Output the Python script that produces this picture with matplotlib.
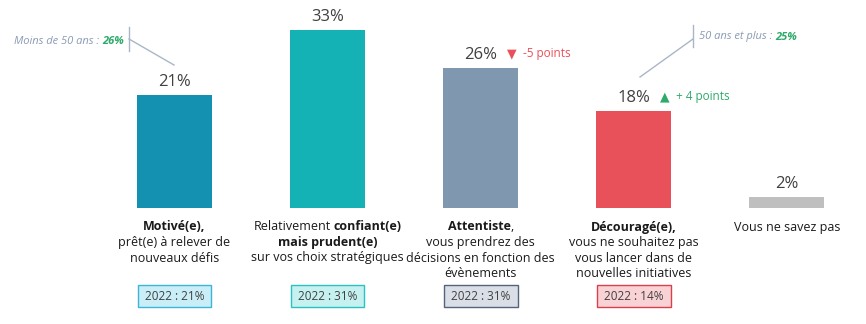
import matplotlib
matplotlib.use("Agg")
import matplotlib.pyplot as plt

plt.rcParams['font.family'] = ['Open Sans', 'DejaVu Sans']

# Données
values = [21, 33, 26, 18, 2]
prev_2022 = [21, 31, 31, 14, None]
bar_colors = ["#1490B0", "#14B1B5", "#8097B0", "#E8505A", "#BFBFBF"]
box_faces = ["#C9EEF8", "#C6F1F1", "#D9DEE7", "#F9D2D5", None]
box_edges = ["#3DB5D6", "#2CC0C0", "#56647A", "#D9404C", None]
labels = [
    [[("Motivé(e),", "bold")],
     [("prêt(e) à relever de", "normal")],
     [("nouveaux défis", "normal")]],
    [[("Relativement", "normal"), ("confiant(e)", "bold")],
     [("mais prudent(e)", "bold")],
     [("sur vos choix stratégiques", "normal")]],
    [[("Attentiste", "bold"), (",", "normal")],
     [("vous prendrez des", "normal")],
     [("décisions en fonction des", "normal")],
     [("évènements", "normal")]],
    [[("Découragé(e),", "bold")],
     [("vous ne souhaitez pas", "normal")],
     [("vous lancer dans de", "normal")],
     [("nouvelles initiatives", "normal")]],
    [[("Vous ne savez pas", "normal")]],
]
deltas = {2: ("▼", "-5 points", "#E8505A"), 3: ("▲", "+ 4 points", "#2EAA6A")}
callouts = {0: ("Moins de 50 ans : ", "26%"), 3: ("50 ans et plus : ", "25%")}

W, H = 866, 324
fig = plt.figure(figsize=(W / 100, H / 100), dpi=100)
ax = fig.add_axes([0, 0, 1, 1])

# échelle : centre barre 1 à 174.5 px, pas de 153 px ; base à 208 px du haut
step = 153.1
ppu = 5.4
ax.set_xlim(-174.5 / step, (W - 174.5) / step)
ax.set_ylim(-(H - 208) / ppu, 208 / ppu)
ax.axis("off")

x = list(range(len(values)))
ax.bar(x, values, width=0.49, color=bar_colors)

renderer = fig.canvas.get_renderer()
LBL_SIZE = 9


def text_width(s, **kw):
    t = ax.text(0, 0, s, **kw)
    w = t.get_window_extent(renderer).width
    t.remove()
    return w


space_w = text_width("a a", fontsize=LBL_SIZE) - text_width("aa", fontsize=LBL_SIZE)


def rich_line(xi, dy, segments, size=LBL_SIZE, color="#1a1a1a"):
    anns = []
    for txt, weight in segments:
        a = ax.annotate(txt, xy=(xi, 0), xytext=(0, dy), textcoords="offset pixels",
                        ha="left", va="center", fontsize=size, fontweight=weight,
                        color=color)
        anns.append(a)
    widths = [a.get_window_extent(renderer).width for a in anns]
    # espace entre segments sauf devant la ponctuation
    gaps = [0 if txt[0] in ",." else space_w for txt, _ in segments[1:]]
    total = sum(widths) + sum(gaps)
    cur = -total / 2
    for k, (a, w) in enumerate(zip(anns, widths)):
        a.xyann = (cur, dy)
        cur += w + (gaps[k] if k < len(gaps) else 0)


# Libellés des catégories
for i, lines in enumerate(labels):
    for j, segs in enumerate(lines):
        rich_line(i, -19 - j * 15.5, segs)

# Valeurs
for i, v in enumerate(values):
    ax.annotate(f"{v}%", xy=(i, v), xytext=(0, 5), textcoords="offset pixels",
                ha="center", va="bottom", fontsize=12, color="#404040")

# Rappel 2022
for i, p in enumerate(prev_2022):
    if p is None:
        continue
    ax.annotate(f" 2022 : {p}% ", xy=(i, 0), xytext=(0, -88), textcoords="offset pixels",
                ha="center", va="center", fontsize=8.5, color="#404040",
                bbox=dict(boxstyle="square,pad=0.35", fc=box_faces[i], ec=box_edges[i], lw=1))

# Évolutions
for i, (sym, txt, col) in deltas.items():
    ax.annotate(sym, xy=(i, values[i]), xytext=(31, 14), textcoords="offset pixels",
                ha="center", va="center", fontsize=9, color=col,
                family=["DejaVu Sans"])
    ax.annotate(txt, xy=(i, values[i]), xytext=(42, 14), textcoords="offset pixels",
                ha="left", va="center", fontsize=8.5, color=col)


def px2x(px):
    return (px - 174.5) / step


def px2y(py):
    return (208 - py) / ppu


# Sous-populations
c_grey = "#8A9BB4"
c_line = "#A9B6C8"
lbl, val = callouts[0]
v_t = ax.text(px2x(124), px2y(41), val, ha="right", va="center", fontsize=8,
              style="italic", fontweight="bold", color="#2EAA6A")
wv = v_t.get_window_extent(renderer).width
ax.annotate(lbl, xy=(px2x(124), px2y(41)), xytext=(-wv, 0), textcoords="offset pixels",
            ha="right", va="center", fontsize=8, style="italic", color=c_grey)
ax.plot([px2x(129), px2x(129)], [px2y(27), px2y(51)], color=c_line, lw=1)
ax.plot([px2x(129), px2x(174)], [px2y(39), px2y(65)], color=c_line, lw=1)

lbl, val = callouts[3]
l_t = ax.text(px2x(699), px2y(37), lbl, ha="left", va="center", fontsize=8,
              style="italic", color=c_grey)
wl = l_t.get_window_extent(renderer).width
ax.annotate(val, xy=(px2x(699), px2y(37)), xytext=(wl, 0), textcoords="offset pixels",
            ha="left", va="center", fontsize=8, style="italic", fontweight="bold",
            color="#2EAA6A")
ax.plot([px2x(693), px2x(693)], [px2y(25), px2y(47)], color=c_line, lw=1)
ax.plot([px2x(693), px2x(640)], [px2y(39), px2y(77)], color=c_line, lw=1)

fig.savefig("out.png", dpi=100)
